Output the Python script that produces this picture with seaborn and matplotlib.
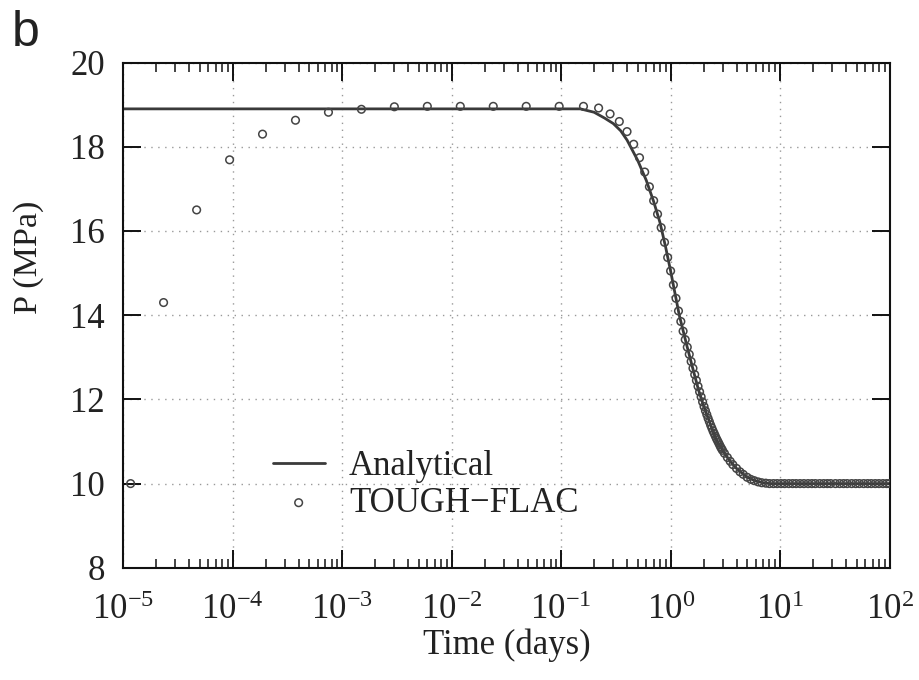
import seaborn as sns
import matplotlib
matplotlib.use("Agg")
import matplotlib.pyplot as plt
import matplotlib.ticker as mticker
import pandas as pd

# Solucao analitica (tempo em dias, pressao em MPa)
t_analytical = [1e-5, 0.1, 0.15, 0.2, 0.25, 0.3, 0.35, 0.4, 0.5, 0.6, 0.7, 0.8,
                0.9, 1.0, 1.1, 1.2, 1.4, 1.6, 1.8, 2.0, 2.3, 2.6, 3.0, 3.5, 4.0,
                5.0, 6.0, 7.0, 8.0, 100.0]
p_analytical = [18.9, 18.9, 18.9, 18.82, 18.68, 18.55, 18.38, 18.16, 17.68, 17.2,
                16.7, 16.2, 15.62, 15.05, 14.5, 14.0, 13.3, 12.72, 12.22, 11.85,
                11.42, 11.05, 10.78, 10.53, 10.36, 10.15, 10.06, 10.02, 10.0, 10.0]

# Resultados TOUGH-FLAC
t_sim = [1.17e-5, 2.34e-5, 4.69e-5, 9.38e-5, 1.875e-4, 3.75e-4, 7.5e-4,
         1.5e-3, 3.0e-3, 6.0e-3, 1.2e-2, 2.4e-2, 4.8e-2, 9.6e-2,
         0.16, 0.22, 0.28, 0.34, 0.40, 0.46, 0.52, 0.58,
         0.64, 0.70, 0.76, 0.82, 0.88, 0.94, 1.00, 1.06,
         1.12, 1.18, 1.24, 1.30, 1.36, 1.42, 1.48, 1.54,
         1.60, 1.66, 1.72, 1.78, 1.84, 1.90, 1.96, 2.02,
         2.08, 2.14, 2.20, 2.26, 2.32, 2.38, 2.44, 2.50,
         2.56, 2.62, 2.68, 2.74, 2.80, 2.86, 2.92, 2.98,
         3.1, 3.3, 3.5, 3.7, 4.0, 4.3, 4.6, 5.0,
         5.4, 5.8, 6.3, 6.8, 7.4, 8.0, 8.7, 9.4,
         10.2, 11.0, 12.0, 13.0, 14.0, 15.2, 16.5, 18.0,
         19.5, 21.0, 23.0, 25.0, 27.0, 29.0, 32.0, 35.0,
         38.0, 41.0, 45.0, 49.0, 53.0, 58.0, 63.0, 68.0,
         74.0, 80.0, 87.0, 94.0, 100.0]
p_sim = [10.0, 14.3, 16.5, 17.69, 18.3, 18.63, 18.82,
         18.89, 18.95, 18.96, 18.96, 18.96, 18.96, 18.96,
         18.96, 18.92, 18.78, 18.6, 18.36, 18.06, 17.74, 17.40,
         17.05, 16.72, 16.40, 16.08, 15.73, 15.37, 15.05, 14.72,
         14.40, 14.10, 13.85, 13.62, 13.42, 13.24, 13.07, 12.90,
         12.74, 12.59, 12.45, 12.31, 12.18, 12.06, 11.94, 11.83,
         11.73, 11.64, 11.55, 11.47, 11.39, 11.32, 11.25, 11.19,
         11.13, 11.07, 11.02, 10.97, 10.92, 10.87, 10.83, 10.79,
         10.72, 10.62, 10.53, 10.45, 10.36, 10.28, 10.22, 10.15,
         10.10, 10.07, 10.04, 10.02, 10.01, 10.0, 10.0, 10.0,
         10.0, 10.0, 10.0, 10.0, 10.0, 10.0, 10.0, 10.0,
         10.0, 10.0, 10.0, 10.0, 10.0, 10.0, 10.0, 10.0,
         10.0, 10.0, 10.0, 10.0, 10.0, 10.0, 10.0, 10.0,
         10.0, 10.0, 10.0, 10.0, 10.0]

y_ticks = [8, 10, 12, 14, 16, 18, 20]

df_an = pd.DataFrame({'t': t_analytical, 'P': p_analytical})
df_sim = pd.DataFrame({'t': t_sim, 'P': p_sim})

sns.set_style('ticks')
plt.rcParams['font.family'] = ['Liberation Serif', 'DejaVu Serif']
plt.rcParams['mathtext.fontset'] = 'custom'
plt.rcParams['mathtext.rm'] = 'Liberation Serif'
plt.rcParams['axes.unicode_minus'] = True

fig = plt.figure(figsize=(9.19, 6.8), dpi=100)
ax = fig.add_axes([0.134, 0.165, 0.834, 0.743])

sns.lineplot(data=df_an, x='t', y='P', ax=ax, color='#3a3a3a', linewidth=2.0,
             label='Analytical')
sns.scatterplot(data=df_sim, x='t', y='P', ax=ax, marker='o', s=30,
                facecolors='none', edgecolors='#444444', linewidths=1.1,
                label='TOUGH\u2212FLAC', zorder=3)

ax.set_xscale('log')
ax.set_xlim(1e-5, 1e2)
ax.set_ylim(8, 20)
ax.set_yticks(y_ticks)
ax.xaxis.set_major_locator(mticker.LogLocator(base=10, numticks=10))
ax.xaxis.set_minor_locator(mticker.LogLocator(base=10, subs=range(2, 10), numticks=100))
ax.xaxis.set_minor_formatter(mticker.NullFormatter())
ax.xaxis.set_major_formatter(mticker.LogFormatterMathtext())

ax.tick_params(which='both', direction='in', top=True, right=True,
               labelsize=25, color='#111111', labelcolor='#222222')
ax.tick_params(axis='x', which='major', pad=19)
ax.tick_params(axis='y', which='major', pad=13)
ax.tick_params(which='major', length=13, width=1.4)
ax.tick_params(which='minor', length=6.5, width=1.1)
for s in ax.spines.values():
    s.set_linewidth(1.5)
    s.set_color('#111111')

ax.grid(True, which='major', linestyle=(0, (1, 4)), color='#999999', linewidth=1.0)

ax.set_xlabel('Time (days)', fontsize=25, labelpad=1, color='#222222')
ax.set_ylabel('P (MPa)', fontsize=24.5, color='#222222')
ax.yaxis.set_label_coords(-0.103, 0.615)

leg = ax.legend(loc='lower left', bbox_to_anchor=(0.195, 0.095), frameon=False,
                fontsize=25, handlelength=1.5, handletextpad=0.7,
                borderaxespad=0, borderpad=0, labelspacing=0.1)
for txt in leg.get_texts():
    txt.set_color('#222222')

fig.text(0.013, 0.986, 'b', fontsize=36, family='Liberation Sans', va='top',
         ha='left', color='#222222')

fig.savefig('out.png', dpi=100)
